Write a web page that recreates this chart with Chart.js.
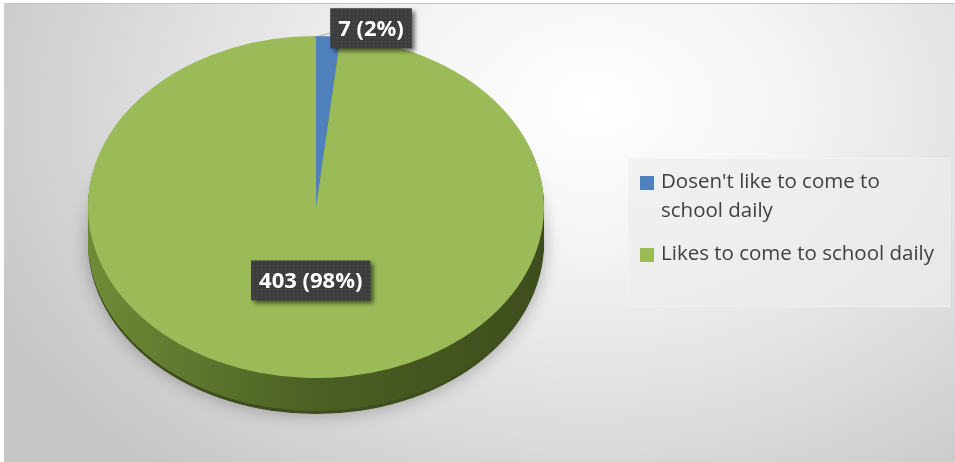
<!DOCTYPE html>
<html>
<head>
<meta charset="utf-8">
<script src="https://cdn.jsdelivr.net/npm/chart.js@4.4.1/dist/chart.umd.min.js"></script>
<style>
  html, body { margin: 0; padding: 0; background: #fff; }
  body { width: 955px; height: 462px; position: relative; overflow: hidden; font-family: "Open Sans", sans-serif; }
  #frame {
    position: absolute; left: 4px; top: 3px; width: 951px; height: 458px;
    border-top: 1px solid #c4c4c4;
    background: radial-gradient(ellipse 70% 105% at 62% 22%, #ffffff 0%, #f4f4f4 30%, #dedede 65%, #c6c6c6 100%);
  }
  #pie { position: absolute; left: 0; top: 0; }
  #legend {
    position: absolute; left: 628px; top: 158px; width: 322px; height: 149px;
    background: rgba(236, 236, 236, 0.7);
    border: 1px solid rgba(255, 255, 255, 0.3);
    box-sizing: border-box;
    margin: 0; padding: 7px 0 0 11px; list-style: none;
  }
  #legend li { position: relative; padding-left: 21px; font-size: 20.5px; line-height: 29px; color: #404040; white-space: nowrap; margin-bottom: 14px; }
  #legend li span { position: absolute; left: 0; top: 10px; width: 14px; height: 14px; }
</style>
</head>
<body>
<div id="frame"></div>
<canvas id="pie" width="955" height="462"></canvas>
<ul id="legend"></ul>
<script>
// Survey answers: does the pupil like coming to school every day
const categories = [["Dosen't like to come to", 'school daily'], 'Likes to come to school daily'];
const counts = [7, 403];

const sliceColors = ['#4f81bd', '#9bbb59'];
const sideStops = [
    ['#4d77a8', '#3a5f8c', '#2e4a6d'],
    ['#6f8b37', '#4b5f23', '#3e4d1c']
];

// look of the tilted pie
const TILT = 0.75;     // vertical squash of the top face
const DEPTH = 33;      // thickness of the side wall
const TOP_Y = 207;     // where the centre of the top face ends up

const total = counts.reduce((a, b) => a + b, 0);

function sector(ctx, arc) {
    ctx.beginPath();
    ctx.moveTo(arc.x, arc.y);
    ctx.arc(arc.x, arc.y, arc.outerRadius, arc.startAngle, arc.endAngle);
    ctx.closePath();
}

function tilt(ctx, arc) {
    ctx.translate(arc.x, TOP_Y);
    ctx.scale(1, TILT);
    ctx.translate(-arc.x, -arc.y);
}

// draws shadow and side wall, then squashes the slices chart.js draws
const tiltPlugin = {
    id: 'tilt',
    beforeDatasetsDraw(chart) {
        const ctx = chart.ctx;
        const arcs = chart.getDatasetMeta(0).data;
        const a0 = arcs[0];

        // soft shadow under the base
        ctx.save();
        ctx.translate(0, DEPTH + 3);
        tilt(ctx, a0);
        ctx.shadowColor = 'rgba(0, 0, 0, 0.3)';
        ctx.shadowBlur = 18;
        ctx.beginPath();
        ctx.arc(a0.x, a0.y, a0.outerRadius, 0, Math.PI * 2);
        ctx.fillStyle = '#3e4d1c';
        ctx.fill();
        ctx.restore();

        // side wall, stacked from the bottom up
        for (let d = DEPTH; d >= 1; d--) {
            ctx.save();
            ctx.translate(0, d);
            tilt(ctx, a0);
            arcs.forEach((arc, i) => {
                const g = ctx.createLinearGradient(arc.x - arc.outerRadius, 0, arc.x + arc.outerRadius, 0);
                g.addColorStop(0, sideStops[i][0]);
                g.addColorStop(0.5, sideStops[i][1]);
                g.addColorStop(1, sideStops[i][2]);
                ctx.fillStyle = g;
                sector(ctx, arc);
                ctx.fill();
            });
            ctx.restore();
        }

        ctx.save();
        tilt(ctx, a0);
    },
    afterDatasetsDraw(chart) {
        chart.ctx.restore();
    }
};

function dotPattern(ctx) {
    const c = document.createElement('canvas');
    c.width = 4; c.height = 4;
    const p = c.getContext('2d');
    p.fillStyle = '#3d3d3d';
    p.fillRect(0, 0, 4, 4);
    p.fillStyle = '#575757';
    p.fillRect(1, 1, 1, 1);
    return ctx.createPattern(c, 'repeat');
}

function labelBox(ctx, text, cx, cy) {
    ctx.font = 'bold 22px "Open Sans"';
    const w = ctx.measureText(text).width + 16;
    const h = 40;
    const x = cx - w / 2, y = cy - h / 2;
    ctx.save();
    ctx.shadowColor = 'rgba(0, 0, 0, 0.55)';
    ctx.shadowBlur = 4;
    ctx.shadowOffsetX = 3;
    ctx.shadowOffsetY = 3;
    ctx.fillStyle = dotPattern(ctx);
    ctx.fillRect(x, y, w, h);
    ctx.restore();
    ctx.fillStyle = '#ffffff';
    ctx.textAlign = 'center';
    ctx.textBaseline = 'middle';
    ctx.fillText(text, cx, cy + 1);
    return w;
}

// value (percent) labels
const labelPlugin = {
    id: 'valueLabels',
    afterDatasetsDraw(chart) {
        const ctx = chart.ctx;
        const arcs = chart.getDatasetMeta(0).data;
        arcs.forEach((arc, i) => {
            const pct = Math.round(counts[i] / total * 100);
            const text = counts[i] + ' (' + pct + '%)';
            const mid = (arc.startAngle + arc.endAngle) / 2;
            if (counts[i] / total < 0.1) {
                // small slice: label outside with a short leader line
                const ax = arc.x + Math.cos(mid) * arc.outerRadius;
                const ay = TOP_Y + Math.sin(mid) * arc.outerRadius * TILT;
                ctx.font = 'bold 22px "Open Sans"';
                const w = ctx.measureText(text).width + 16;
                const bx = ax + 2 + w / 2, by = ay - 8;
                ctx.strokeStyle = '#a6a6a6';
                ctx.lineWidth = 1;
                ctx.beginPath();
                ctx.moveTo(ax - 10, ay);
                ctx.lineTo(ax + 2, ay - 3);
                ctx.stroke();
                labelBox(ctx, text, bx, by);
            } else {
                const rr = arc.outerRadius * 0.43;
                const lx = arc.x + Math.cos(mid) * rr;
                const ly = TOP_Y + Math.sin(mid) * rr * TILT;
                labelBox(ctx, text, lx, ly);
            }
        });
    }
};

// legend built from the same categories and colours
const legend = document.getElementById('legend');
categories.forEach((c, i) => {
    const li = document.createElement('li');
    const sw = document.createElement('span');
    sw.style.background = sliceColors[i];
    li.appendChild(sw);
    const lines = Array.isArray(c) ? c : [c];
    lines.forEach((t, k) => {
        if (k > 0) li.appendChild(document.createElement('br'));
        li.appendChild(document.createTextNode(t));
    });
    legend.appendChild(li);
});

const ctx = document.getElementById('pie').getContext('2d');
new Chart(ctx, {
    type: 'pie',
    data: {
        labels: categories,
        datasets: [{
            data: counts,
            backgroundColor: sliceColors,
            borderWidth: 0,
            clip: false
        }]
    },
    options: {
        responsive: false,
        animation: false,
        events: [],
        layout: { padding: { left: 88, right: 411, top: 3, bottom: 3 } },
        plugins: {
            legend: { display: false },
            tooltip: { enabled: false }
        }
    },
    plugins: [tiltPlugin, labelPlugin]
});
</script>
</body>
</html>
